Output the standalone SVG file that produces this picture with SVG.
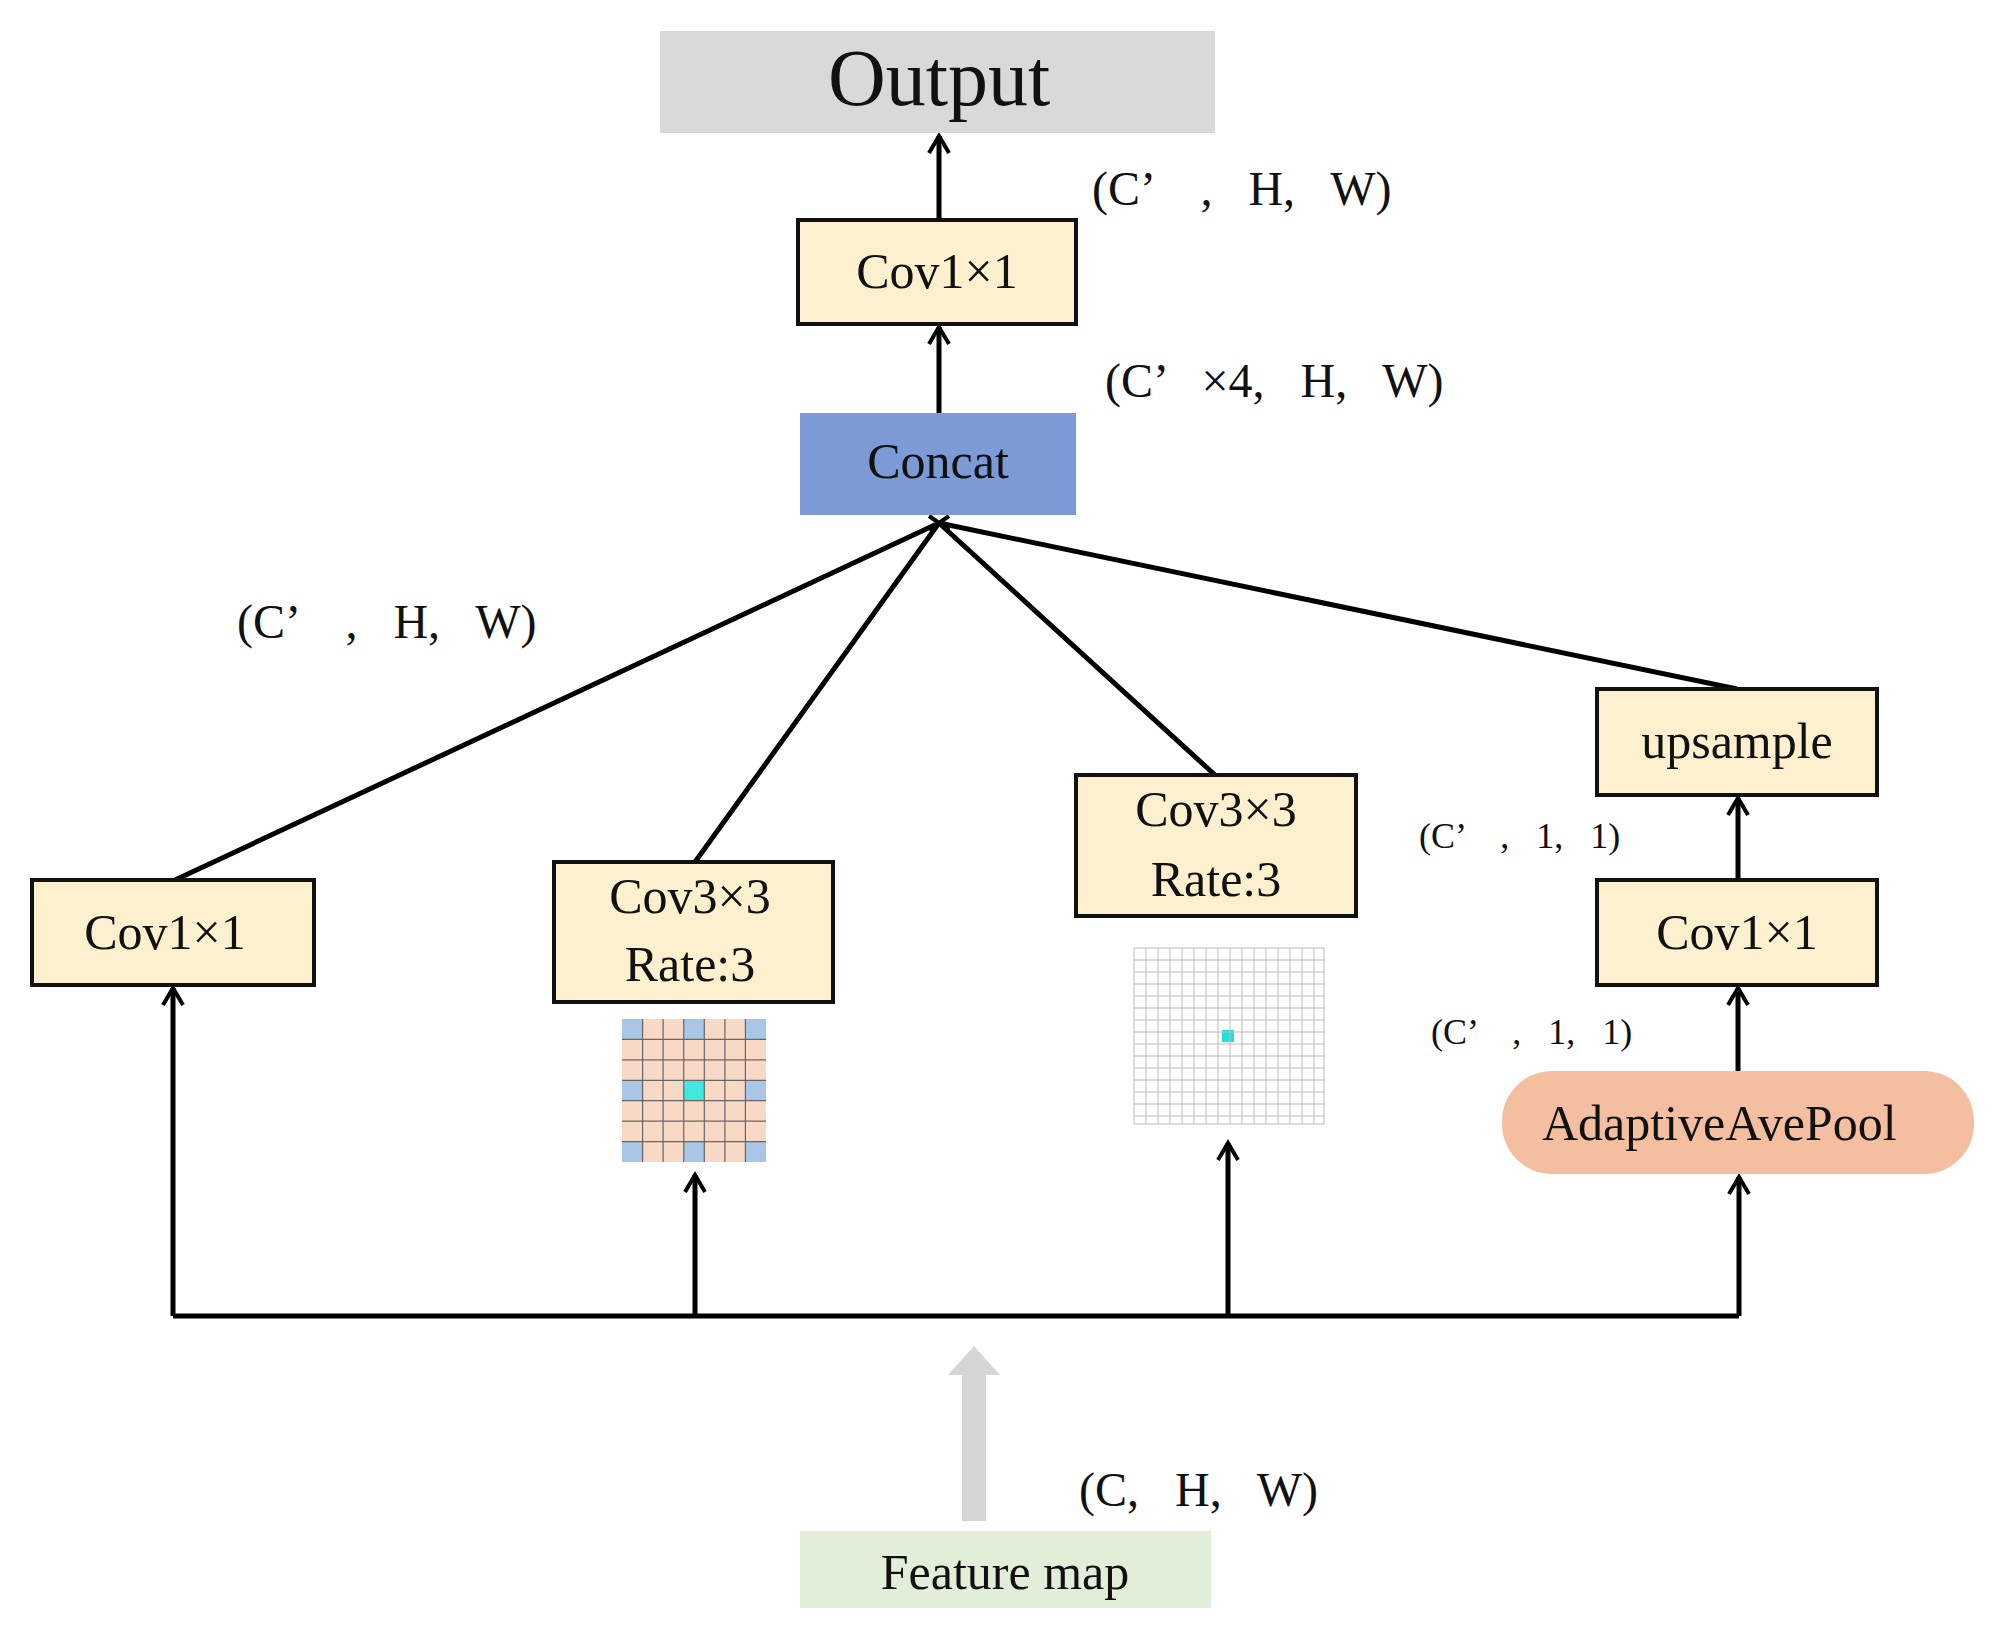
<svg xmlns="http://www.w3.org/2000/svg" width="2003" height="1647" viewBox="0 0 2003 1647">
<defs>
<marker id="ah" viewBox="0 0 24 24" refX="20" refY="12" markerWidth="24" markerHeight="24" markerUnits="userSpaceOnUse" orient="auto"><path d="M3,2 L20,12 L3,22" fill="none" stroke="#000" stroke-width="4"/></marker>
</defs>
<style>
text{font-family:"Liberation Serif","Times New Roman",serif;fill:#111;white-space:pre}
.box{fill:#fdf0cf;stroke:#111;stroke-width:4}
.t{font-size:50px;text-anchor:middle}
.lab{font-size:48px}
.sm{font-size:36px}
.ln{stroke:#000;stroke-width:5;fill:none}
</style>
<rect width="2003" height="1647" fill="#fff"/>
<g id="connectors">
<path class="ln" marker-end="url(#ah)" d="M939,220 V136"/>
<path class="ln" marker-end="url(#ah)" d="M939,413 V327"/>
<path class="ln" d="M175,880 L939,523 M695,862 L939,523 M1215,775 L939,523 M1737,689 L939,523"/>
<path class="ln" marker-end="url(#ah)" d="M1738,880 V798"/>
<path class="ln" marker-end="url(#ah)" d="M1738,1071 V988"/>
<path class="ln" d="M173,1316 H1739"/>
<path class="ln" marker-end="url(#ah)" d="M173,1316 V988"/>
<path class="ln" marker-end="url(#ah)" d="M695,1316 V1175"/>
<path class="ln" marker-end="url(#ah)" d="M1228,1316 V1143"/>
<path class="ln" marker-end="url(#ah)" d="M1739,1316 V1177"/>
<path d="M974,1521 V1370" stroke="#d6d6d6" stroke-width="24"/>
<path d="M948,1375 L974,1346 L1000,1375 Z" fill="#d6d6d6"/>
<path d="M929,516 L949,530 M949,516 L929,530" stroke="#000" stroke-width="4"/>
</g>
<g id="output"><rect x="660" y="31" width="555" height="102" fill="#d9d9d9"/><text x="939" y="105" font-size="80" text-anchor="middle">Output</text></g>
<g id="cov-top"><rect class="box" x="798" y="220" width="278" height="104"/><text class="t" x="937" y="288">Cov1×1</text></g>
<g id="concat"><rect x="800" y="413" width="276" height="102" fill="#7c9ad6"/><text class="t" x="938" y="478">Concat</text></g>
<g id="cov-left"><rect class="box" x="32" y="880" width="282" height="105"/><text class="t" x="165" y="949">Cov1×1</text></g>
<g id="cov3-a"><rect class="box" x="554" y="862" width="279" height="140"/><text class="t" x="690" y="913">Cov3×3</text><text class="t" x="690" y="981">Rate:3</text></g>
<g id="grid-a">
<rect x="622" y="1019" width="144" height="143" fill="#f8d9c6"/>
<g fill="#a9c6e6">
<rect x="622" y="1019" width="20.6" height="20.4"/><rect x="683.7" y="1019" width="20.6" height="20.4"/><rect x="745.4" y="1019" width="20.6" height="20.4"/>
<rect x="622" y="1080.3" width="20.6" height="20.4"/><rect x="745.4" y="1080.3" width="20.6" height="20.4"/>
<rect x="622" y="1141.6" width="20.6" height="20.4"/><rect x="683.7" y="1141.6" width="20.6" height="20.4"/><rect x="745.4" y="1141.6" width="20.6" height="20.4"/>
</g>
<rect x="683.7" y="1080.3" width="20.6" height="20.4" fill="#40e8e0"/>
<path stroke="#666" stroke-width="1.2" fill="none" d="M642.6,1019 V1162 M663.1,1019 V1162 M683.7,1019 V1162 M704.3,1019 V1162 M724.9,1019 V1162 M745.4,1019 V1162 M622,1039.4 H766 M622,1059.9 H766 M622,1080.3 H766 M622,1100.7 H766 M622,1121.1 H766 M622,1141.6 H766"/>
</g>
<g id="cov3-b"><rect class="box" x="1076" y="775" width="280" height="141"/><text class="t" x="1216" y="826">Cov3×3</text><text class="t" x="1216" y="896">Rate:3</text></g>
<g id="grid-b">
<rect x="1134" y="948" width="190" height="176" fill="#fff" stroke="#bbb" stroke-width="1"/>
<rect x="1222" y="1030" width="12" height="12" fill="#20e0d8"/>
<path stroke="#bbb" stroke-width="1" fill="none" d="M1146,948 V1124 M1158,948 V1124 M1170,948 V1124 M1182,948 V1124 M1194,948 V1124 M1206,948 V1124 M1218,948 V1124 M1230,948 V1124 M1242,948 V1124 M1254,948 V1124 M1266,948 V1124 M1278,948 V1124 M1290,948 V1124 M1302,948 V1124 M1314,948 V1124 M1134,960 H1324 M1134,972 H1324 M1134,984 H1324 M1134,996 H1324 M1134,1008 H1324 M1134,1020 H1324 M1134,1032 H1324 M1134,1044 H1324 M1134,1056 H1324 M1134,1068 H1324 M1134,1080 H1324 M1134,1092 H1324 M1134,1104 H1324 M1134,1116 H1324"/>
</g>
<g id="upsample"><rect class="box" x="1597" y="689" width="280" height="106"/><text class="t" x="1737" y="758">upsample</text></g>
<g id="cov-right"><rect class="box" x="1597" y="880" width="280" height="105"/><text class="t" x="1737" y="949">Cov1×1</text></g>
<g id="pool"><rect x="1502" y="1071" width="472" height="103" rx="50" fill="#f4bfa0"/><text x="1542" y="1140" font-size="50">AdaptiveAvePool</text></g>
<g id="feature"><rect x="800" y="1531" width="411" height="77" fill="#e1efd9"/><text class="t" x="1005" y="1589">Feature map</text></g>
<g id="labels">
<text class="lab" x="1092" y="205" xml:space="preserve">(C’    ,   H,   W)</text>
<text class="lab" x="1105" y="397" xml:space="preserve">(C’   ×4,   H,   W)</text>
<text class="lab" x="237" y="638" xml:space="preserve">(C’    ,   H,   W)</text>
<text class="sm" x="1419" y="848" xml:space="preserve">(C’    ,   1,   1)</text>
<text class="sm" x="1431" y="1044" xml:space="preserve">(C’    ,   1,   1)</text>
<text class="lab" x="1079" y="1506" xml:space="preserve">(C,   H,   W)</text>
</g>
</svg>
